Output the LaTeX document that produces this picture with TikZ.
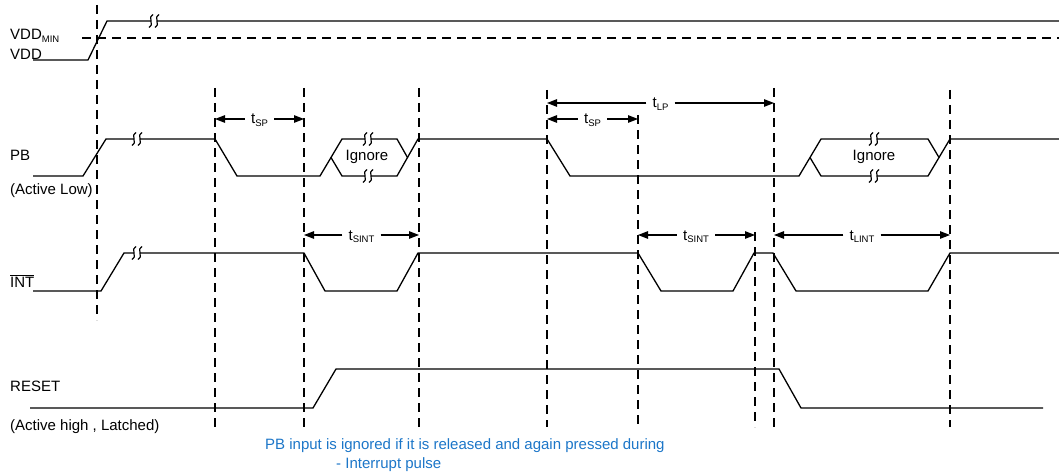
\documentclass[tikz,border=0pt]{standalone}
\usepackage{fontspec}
\setmainfont{Liberation Sans}
\usetikzlibrary{arrows.meta}
\definecolor{noteblue}{RGB}{28,118,200}

\newcommand{\subtxt}[1]{\raisebox{-0.35ex}{\fontsize{9.5}{10}\selectfont #1}}
% break mark on a level line
\newcommand{\brkmark}[2]{%
  \fill[white] ({#1-3},{#2-1.2}) rectangle ({#1+3},{#2+1.2});
  \draw[brk] ({#1-1},{#2-6.5}) .. controls ({#1-7},{#2-5}) and ({#1+1},{#2+5}) .. ({#1-5},{#2+6.5});
  \draw[brk] ({#1+5},{#2-6.5}) .. controls ({#1-1},{#2-5}) and ({#1+7},{#2+5}) .. ({#1+1},{#2+6.5});
}

\tikzset{
  sig/.style={line width=1.3pt, line join=miter},
  brk/.style={line width=1.2pt},
  guide/.style={line width=1.1pt, dash pattern=on 9pt off 6pt},
  dim/.style={line width=1.1pt, -{Triangle[length=10pt,width=7.5pt]}},
  lbl/.style={font=\fontsize{15}{17}\selectfont, inner sep=0pt},
  tlbl/.style={lbl, inner xsep=6pt, text height=10pt, text depth=0pt, anchor=center},
  note/.style={lbl, text=noteblue, anchor=base west}
}

\begin{document}
\begin{tikzpicture}[x=1pt, y=-1pt]
  \useasboundingbox (0,0) rectangle (1059,476);

  % guide lines
  \foreach \x/\top/\bot [count=\i] in {97/5/320, 215/88/427, 304/88/427, 419/88/427,
      547/90/427, 638/115/427, 755/232/427, 774/88/427, 950/90/427} {
    \coordinate (g\i t) at (\x,\top);
    \coordinate (g\i b) at (\x,\bot);
    \draw[guide] (g\i t) -- (g\i b);
  }

  % signal names
  \node[lbl, anchor=base west] (vmin)  at (10,40)  {VDD\subtxt{MIN}};
  \node[lbl, anchor=base west] (vdd)   at (10,60)  {VDD};
  \node[lbl, anchor=base west] (pb)    at (10,160) {PB};
  \node[lbl, anchor=base west] (pbact) at (10,194) {(Active Low)};
  \node[lbl, anchor=base west] (int)   at (10,287) {$\overline{\mbox{INT}}$};
  \node[lbl, anchor=base west] (rst)   at (10,391) {RESET};
  \node[lbl, anchor=base west] (rstact) at (10,430) {(Active high , Latched)};

  % VDD
  \draw[guide] (82,38) -- (1059,38);
  \draw[sig] (33,60) -- (88,60) -- (107,21) -- (1059,21);
  \brkmark{154}{21}

  % PB
  \draw[sig] (33,176) -- (83,176) -- (106,139) -- (215,139) -- (237,176)
    -- (320,176) -- (342,139) -- (397,139) -- (407.5,157.5);
  \draw[sig] (331,157.5) -- (342,176) -- (397,176) -- (418,139) -- (547,139)
    -- (570,176) -- (799,176) -- (821,139) -- (928,139) -- (939,157.5);
  \draw[sig] (810,157.5) -- (821,176) -- (928,176) -- (950,139) -- (1059,139);
  \brkmark{137}{139}
  \brkmark{368}{139}
  \brkmark{368}{176}
  \brkmark{874}{139}
  \brkmark{874}{176}
  \node[lbl] (ign1) at (367,157) {Ignore};
  \node[lbl] (ign2) at (874,157) {Ignore};

  % INT
  \draw[sig] (33,291) -- (101,291) -- (124,253) -- (304,253) -- (325,291)
    -- (397,291) -- (418,253) -- (638,253) -- (661,291) -- (733,291)
    -- (754,253) -- (773,253) -- (796,291) -- (928,291) -- (950,253) -- (1059,253);
  \brkmark{137}{253}

  % RESET
  \draw[sig] (30,408) -- (313,408) -- (336,369) -- (779,369) -- (801,408) -- (1043,408);

  % timing marks
  \node[tlbl] (tsp1) at (259.5,119) {t\subtxt{SP}};
  \draw[dim] (tsp1.west) -- (tsp1.west -| g2t);
  \draw[dim] (tsp1.east) -- (tsp1.east -| g3t);

  \node[tlbl] (tlp) at (660.5,103) {t\subtxt{LP}};
  \draw[dim] (tlp.west) -- (tlp.west -| g5t);
  \draw[dim] (tlp.east) -- (tlp.east -| g8t);

  \node[tlbl] (tsp2) at (592.5,119) {t\subtxt{SP}};
  \draw[dim] (tsp2.west) -- (tsp2.west -| g5t);
  \draw[dim] (tsp2.east) -- (tsp2.east -| g6t);

  \node[tlbl] (tsint1) at (361.5,235) {t\subtxt{SINT}};
  \draw[dim] (tsint1.west) -- (tsint1.west -| g3t);
  \draw[dim] (tsint1.east) -- (tsint1.east -| g4t);

  \node[tlbl] (tsint2) at (696,235) {t\subtxt{SINT}};
  \draw[dim] (tsint2.west) -- (tsint2.west -| g6t);
  \draw[dim] (tsint2.east) -- (tsint2.east -| g7t);

  \node[tlbl] (tlint) at (862,235) {t\subtxt{LINT}};
  \draw[dim] (tlint.west) -- (tlint.west -| g8t);
  \draw[dim] (tlint.east) -- (tlint.east -| g9t);

  % note
  \node[note] (note1) at (265,449) {PB input is ignored if it is released and again pressed during};
  \node[note] (note2) at (336,468) {- Interrupt pulse};
\end{tikzpicture}
\end{document}
